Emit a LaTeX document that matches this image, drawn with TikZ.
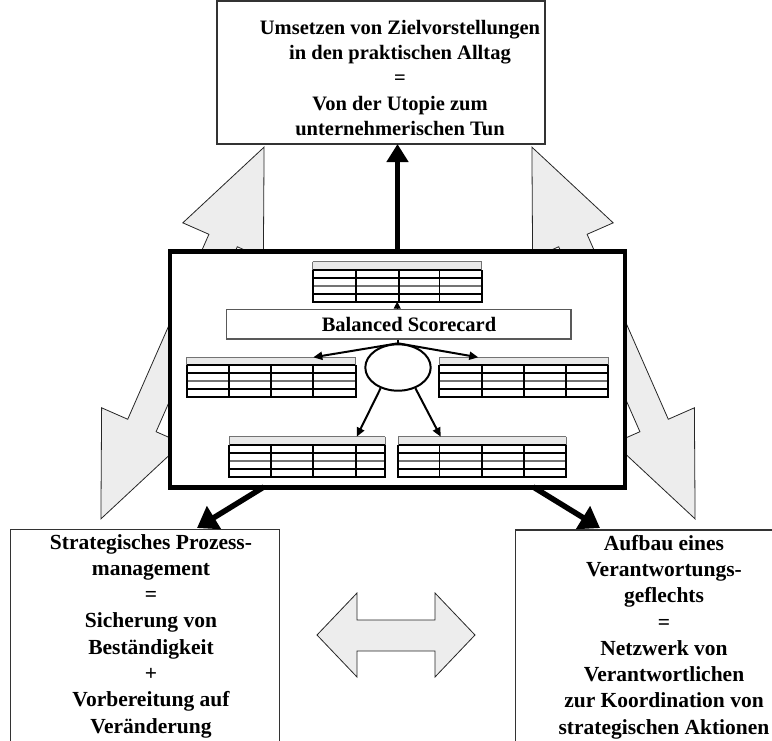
\documentclass[tikz,border=0pt]{standalone}
\usepackage{fontspec}
\setmainfont{Liberation Serif}
\usetikzlibrary{arrows.meta,calc,shapes.geometric}

% grid of a small table: node name, x offsets of the inner column lines
\newcommand\drawgrid[2]{%
  \fill[hdrfill] (#1.north west) rectangle ([yshift=-8pt]#1.north east);
  \draw[black!55, line width=0.9pt] (#1.north west) -- (#1.north east);
  \foreach \r/\c in {8/black,16/black,24/black!55,32/black}
    \draw[\c, line width=1.7pt] ([yshift=-\r pt]#1.north west) -- ([yshift=-\r pt]#1.north east);
  \foreach \cx in {#2}
    \draw[line width=1.6pt] ([xshift=\cx pt,yshift=-8pt]#1.north west) -- ([xshift=\cx pt]#1.south west);
  \draw[line width=1.9pt] ([yshift=-8pt]#1.north west) -- (#1.south west) -- (#1.south east) -- ([yshift=-8pt]#1.north east);
  \draw[black!55, line width=0.9pt] (#1.north west) -- ([yshift=-8pt]#1.north west)
    (#1.north east) -- ([yshift=-8pt]#1.north east);
}

\begin{document}
\begin{tikzpicture}[x=1pt,y=-1pt,
  bigtext/.style={font=\bfseries\fontsize{20.5}{25.4}\selectfont, align=center, inner sep=0pt},
  boxtext/.style={font=\bfseries\fontsize{21.5}{26.3}\selectfont, align=center, inner sep=0pt},
  framebox/.style={draw=black!80, line width=1.1pt, fill=white, inner sep=0pt, outer sep=0pt},
  blockarrow/.style={draw=black!85, line width=0.8pt, fill=black!7, line join=miter},
  tbl/.style={inner sep=0pt, outer sep=0pt, fill=white, anchor=north west, minimum height=40},
  hdrfill/.style={fill=black!9},
  bigarrow/.style={line width=4.8pt, -{Triangle[length=18pt,width=21pt]}},
  diagarrow/.style={line width=5.5pt, -{Triangle[length=20pt,width=26pt]}},
  smallarrow/.style={line width=2pt, -{Triangle[length=9pt,width=8pt]}},
]
\useasboundingbox (0,0) rectangle (772,740);
\clip (0,0) rectangle (772,740);

% two long double block arrows behind the central frame
\begin{scope}[shift={(182.5,333)}, rotate=66.3]
  \draw[blockarrow] (-203,0) -- (-101,44) -- (-101,15.5) -- (101,15.5) -- (101,44)
    -- (203,0) -- (101,-44) -- (101,-15.5) -- (-101,-15.5) -- (-101,-44) -- cycle;
\end{scope}
\begin{scope}[shift={(613.5,333)}, rotate=113.7]
  \draw[blockarrow] (-203,0) -- (-101,44) -- (-101,15.5) -- (101,15.5) -- (101,44)
    -- (203,0) -- (101,-44) -- (101,-15.5) -- (-101,-15.5) -- (-101,-44) -- cycle;
\end{scope}

% horizontal double block arrow between the two lower boxes
\draw[blockarrow] (317,635) -- (357,593) -- (357,620) -- (435,620) -- (435,593)
  -- (475,635) -- (435,677) -- (435,651) -- (357,651) -- (357,677) -- cycle;

% top box
\node[framebox, minimum width=328, minimum height=143] (goal) at (381,72.5) {};
\node[bigtext] (goaltext) at (400,78) {Umsetzen von Zielvorstellungen\\in den praktischen Alltag\\=\\Von der Utopie zum\\unternehmerischen Tun};

% lower boxes
\node[framebox, anchor=north west, minimum width=268.6, minimum height=240] (procbox) at (10.7,529.3) {};
\node[boxtext] (proctext) at (151,636) {Strategisches Prozess-\\management\\=\\Sicherung von\\Beständigkeit\\+\\Vorbereitung auf\\Veränderung};
\node[framebox, anchor=north west, minimum width=280, minimum height=240] (respbox) at (515.7,530) {};
\node[boxtext] (resptext) at (664,637) {Aufbau eines\\Verantwortungs-\\geflechts\\=\\Netzwerk von\\Verantwortlichen\\zur Koordination von\\strategischen Aktionen};

% central frame
\node[draw, line width=4.7pt, fill=white, minimum width=455, minimum height=236, inner sep=0pt] (core) at (397.5,369.5) {};

% balanced scorecard bar
\node[draw=black!65, line width=1.2pt, fill=white, minimum width=344.3, minimum height=29.7, inner sep=0pt] (bsc) at (398.85,324.15) {};
\node[font=\bfseries\fontsize{20.5}{24}\selectfont, inner sep=0pt] (bsclabel) at (409,324.5) {Balanced Scorecard};

% tables
\node[tbl, minimum width=169] (tTop) at (312.7,261.7) {};
\drawgrid{tTop}{43,86,126.6}
\node[tbl, minimum width=169] (tLeft) at (186.7,357.3) {};
\drawgrid{tLeft}{42.3,84,126}
\node[tbl, minimum width=169] (tRight) at (439.3,357.3) {};
\drawgrid{tRight}{42.4,84.7,126.7}
\node[tbl, minimum width=156] (tBL) at (229,436.7) {};
\drawgrid{tBL}{41.7,83.7,126.7}
\node[tbl, minimum width=167.7] (tBR) at (398.3,436.7) {};
\drawgrid{tBR}{41,83.4,125.7}

% hub ellipse
\node[draw, ellipse, line width=2pt, minimum width=65.4, minimum height=46.4, inner sep=0pt] (hub) at (398,367.5) {};

% inner connectors
\draw[line width=1.2pt, -{Triangle[length=7pt,width=7pt]}] (tTop.south |- bsc.north) -- (tTop.south);
\draw[line width=1.2pt] (bsc.south -| hub.north) -- (hub.north);
\draw[smallarrow] (hub.north) -- ([xshift=-42.4pt]tLeft.north east);
\draw[smallarrow] (hub.north) -- ([xshift=39pt]tRight.north west);
\draw[smallarrow] (hub.230) -- ([xshift=-28.3pt]tBL.north east);
\draw[smallarrow] (hub.310) -- ([xshift=42.4pt]tBR.north west);

% thick outgoing arrows
\coordinate (ltip) at (197,528);
\coordinate (rtip) at (600,528);
\draw[bigarrow] (core.north) -- (core.north |- goal.south);
\draw[diagarrow] ($(core.south)+(-133.5,-3)$) -- (ltip);
\draw[diagarrow] ($(core.south)+(135.5,-3)$) -- (rtip);
\end{tikzpicture}
\end{document}
